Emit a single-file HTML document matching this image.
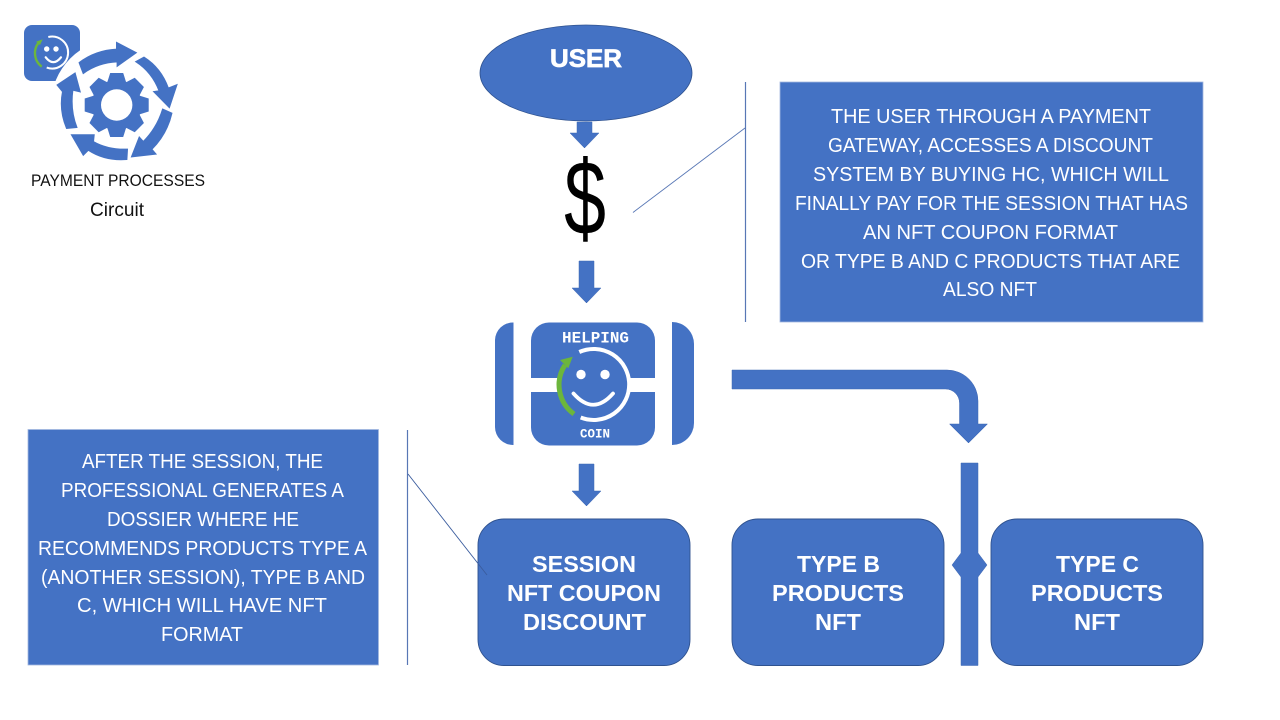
<!DOCTYPE html>
<html><head><meta charset="utf-8"><title>Payment Processes Circuit</title>
<style>html,body{margin:0;padding:0;background:#fff;width:1280px;height:720px;overflow:hidden}svg{display:block}
.b{font:20px "Liberation Sans",sans-serif;fill:#fff}
.h{font:bold 23px "Liberation Sans",sans-serif;fill:#fff}
.k{font:17px "Liberation Sans",sans-serif;fill:#111}
.m{font:bold 16px "Liberation Mono",monospace;fill:#fff}
</style></head><body>
<svg width="1280" height="720" viewBox="0 0 1280 720" xmlns="http://www.w3.org/2000/svg">
<!-- small logo -->
<rect x="24" y="25" width="56" height="56" rx="8" fill="#4472c4"/>
<path d="M48.300 37A16 16 0 1 1 46.700 67.600" fill="none" stroke="#fff" stroke-width="2"/>
<path d="M41.700 66.700A17 17 0 0 1 38.300 43" fill="none" stroke="#6cb63c" stroke-width="2.400"/>
<polygon points="42.700,39.300 36,41.700 40,45" fill="#6cb63c"/>
<circle cx="46.700" cy="49" r="2.700" fill="#fff"/><circle cx="56" cy="49" r="2.700" fill="#fff"/>
<path d="M45.700 57.300Q53.300 67 61 57.300" fill="none" stroke="#fff" stroke-width="2.200" stroke-linecap="round"/>
<circle cx="117" cy="105" r="66" fill="#fff"/>
<!-- gear -->
<g fill="#4472c4">
<polygon points="110.200,73 123.200,73 127,85 106.400,85"/>
<polygon points="110.200,73 123.200,73 127,85 106.400,85" transform="rotate(45 116.700 105)"/>
<polygon points="110.200,73 123.200,73 127,85 106.400,85" transform="rotate(90 116.700 105)"/>
<polygon points="110.200,73 123.200,73 127,85 106.400,85" transform="rotate(135 116.700 105)"/>
<polygon points="110.200,73 123.200,73 127,85 106.400,85" transform="rotate(180 116.700 105)"/>
<polygon points="110.200,73 123.200,73 127,85 106.400,85" transform="rotate(225 116.700 105)"/>
<polygon points="110.200,73 123.200,73 127,85 106.400,85" transform="rotate(270 116.700 105)"/>
<polygon points="110.200,73 123.200,73 127,85 106.400,85" transform="rotate(315 116.700 105)"/>
<circle cx="116.700" cy="105" r="25"/></g>
<circle cx="116.700" cy="105" r="15.700" fill="#fff"/>
<!-- circular arrows -->
<g fill="#4472c4" stroke="#4472c4" stroke-width="1.400" stroke-linejoin="miter">
<path d="M79.300 62.700Q95 50.500 116.700 49.300V42.700L136 52.700L117.300 66V61.700Q98 62.500 83.300 73.300Z"/>
<path d="M144 57.300Q161 68 168.300 88.300L176.700 85L169.300 107.300L154 91.700L159.300 91Q152 72 136 61.700Z"/>
<path d="M162.700 109.300L171.700 113.300Q167 134 151.700 149.300L155.700 154L131.700 156.700L139.300 137.300L143.300 141.700Q157 128 162.700 109.300Z"/>
<path d="M127.300 149.300L126.700 159.300Q105 161 88.300 150L83.300 155L71.700 135L94 135L93.300 141.700Q108 150 127.300 149.300Z"/>
<path d="M76.700 127.300L66.700 128.300Q59 110 62.700 91.700L57.300 85L75 73.300L80 91.700L72.700 90Q70 110 76.700 127.300Z"/>
</g>
<text class="k" x="31" y="186" textLength="174" lengthAdjust="spacingAndGlyphs">PAYMENT PROCESSES</text>
<text class="k" x="90" y="216" textLength="54" lengthAdjust="spacingAndGlyphs" style="font-size:19px">Circuit</text>

<!-- user -->
<ellipse cx="586" cy="73" rx="106" ry="48" fill="#4472c4" stroke="#2f528f" stroke-width="0.800"/>
<text x="550" y="67" font-family="Liberation Sans" font-weight="bold" font-size="25" fill="#fff" stroke="#fff" stroke-width="0.700" textLength="72" lengthAdjust="spacingAndGlyphs">USER</text>

<!-- down arrows -->
<g fill="#4472c4" stroke="#3f68b3" stroke-width="0.500">
<polygon points="577,122 592,122 592,133 599,133 584.500,148 570,133 577,133"/>
<polygon points="579,261 594,261 594,288 601,288 586.500,303 572,288 579,288"/>
<polygon points="579,464 594,464 594,491 601,491 586.500,506 572,491 579,491"/>
</g>
<text transform="translate(585 234.500) scale(.8 1.130)" text-anchor="middle" font-family="Liberation Sans" font-size="94" fill="#000">$</text>

<!-- right box -->
<rect x="780" y="82" width="423" height="240" fill="#4472c4" stroke="#a3b8e0" stroke-width="0.800"/>
<text class="b" x="831" y="123" textLength="320" lengthAdjust="spacingAndGlyphs">THE USER THROUGH A PAYMENT</text>
<text class="b" x="828" y="152" textLength="325" lengthAdjust="spacingAndGlyphs">GATEWAY, ACCESSES A DISCOUNT</text>
<text class="b" x="813" y="181" textLength="356" lengthAdjust="spacingAndGlyphs">SYSTEM BY BUYING HC, WHICH WILL</text>
<text class="b" x="795" y="210" textLength="393" lengthAdjust="spacingAndGlyphs">FINALLY PAY FOR THE SESSION THAT HAS</text>
<text class="b" x="863" y="239" textLength="255" lengthAdjust="spacingAndGlyphs">AN NFT COUPON FORMAT</text>
<text class="b" x="801" y="268" textLength="379" lengthAdjust="spacingAndGlyphs">OR TYPE B AND C PRODUCTS THAT ARE</text>
<text class="b" x="943" y="296" textLength="94" lengthAdjust="spacingAndGlyphs">ALSO NFT</text>

<!-- left box -->
<rect x="28" y="429.500" width="350.500" height="235.500" fill="#4472c4" stroke="#a3b8e0" stroke-width="0.800"/>
<text class="b" x="82" y="468" textLength="241" lengthAdjust="spacingAndGlyphs">AFTER THE SESSION, THE</text>
<text class="b" x="61" y="497" textLength="283" lengthAdjust="spacingAndGlyphs">PROFESSIONAL GENERATES A</text>
<text class="b" x="107" y="526" textLength="192" lengthAdjust="spacingAndGlyphs">DOSSIER WHERE HE</text>
<text class="b" x="38" y="555" textLength="329" lengthAdjust="spacingAndGlyphs">RECOMMENDS PRODUCTS TYPE A</text>
<text class="b" x="41" y="584" textLength="324" lengthAdjust="spacingAndGlyphs">(ANOTHER SESSION), TYPE B AND</text>
<text class="b" x="77" y="612" textLength="250" lengthAdjust="spacingAndGlyphs">C, WHICH WILL HAVE NFT</text>
<text class="b" x="161" y="641" textLength="82" lengthAdjust="spacingAndGlyphs">FORMAT</text>

<!-- HC logo -->
<g fill="#4472c4">
<path d="M513.500 322.500V445A18 18 0 0 1 495 427V340A18 18 0 0 1 513.500 322.500Z"/>
<path d="M672 322V445A22 22 0 0 0 694 423V344A22 22 0 0 0 672 322Z"/>
<rect x="531" y="322.500" width="124" height="123" rx="18"/>
</g>
<rect x="531" y="378" width="124" height="14" fill="#fff"/>
<circle cx="593.800" cy="384.500" r="35.500" fill="#4472c4"/>
<path d="M579.300 352A35.500 35.500 0 1 1 580.700 417.500" fill="none" stroke="#fff" stroke-width="4"/>
<path d="M574 414A36 36 0 0 1 565 365" fill="none" stroke="#6cb63c" stroke-width="5"/>
<polygon points="572.700,356.700 560,360 568.300,368.300" fill="#6cb63c"/>
<circle cx="581" cy="374.500" r="4.700" fill="#fff"/><circle cx="605" cy="374.500" r="4.700" fill="#fff"/>
<path d="M573.500 393.500Q593.300 416 613 393.500" fill="none" stroke="#fff" stroke-width="3.800" stroke-linecap="round"/>
<text class="m" x="562" y="342.500" textLength="67" lengthAdjust="spacingAndGlyphs">HELPING</text>
<text class="m" x="580" y="437.500" textLength="30" lengthAdjust="spacingAndGlyphs" style="font-size:12.500px">COIN</text>

<!-- bent arrow -->
<path d="M732 370H947A31 31 0 0 1 978 401V424H987.500L968.500 443L949.500 424H959.500V403A14 14 0 0 0 945.500 389H732Z" fill="#4472c4" stroke="#3f68b3" stroke-width="0.500"/>

<!-- rounded boxes -->
<g fill="#4472c4" stroke="#2f528f" stroke-width="0.900">
<rect x="478" y="519" width="212" height="146.500" rx="26"/>
<rect x="732" y="519" width="212" height="146.500" rx="26"/>
<rect x="991" y="519" width="212" height="146.500" rx="26"/>
</g>
<text class="h" x="532" y="572" textLength="104" lengthAdjust="spacingAndGlyphs">SESSION</text>
<text class="h" x="507" y="601" textLength="154" lengthAdjust="spacingAndGlyphs">NFT COUPON</text>
<text class="h" x="523" y="630" textLength="123" lengthAdjust="spacingAndGlyphs">DISCOUNT</text>
<text class="h" x="797" y="572" textLength="83" lengthAdjust="spacingAndGlyphs">TYPE B</text>
<text class="h" x="772" y="601" textLength="132" lengthAdjust="spacingAndGlyphs">PRODUCTS</text>
<text class="h" x="815" y="630" textLength="46" lengthAdjust="spacingAndGlyphs">NFT</text>
<text class="h" x="1056" y="572" textLength="83" lengthAdjust="spacingAndGlyphs">TYPE C</text>
<text class="h" x="1031" y="601" textLength="132" lengthAdjust="spacingAndGlyphs">PRODUCTS</text>
<text class="h" x="1074" y="630" textLength="46" lengthAdjust="spacingAndGlyphs">NFT</text>

<!-- callout lines (drawn above boxes) -->
<g stroke="#5877b5" fill="none">
<path d="M745.500 82V322" stroke-width="1.200"/>
<path d="M633 212.500L745 128" stroke-width="0.900"/>
<path d="M407.500 430V665" stroke-width="1.200"/>
<path d="M408 474L487 575" stroke="#3a5c9e" stroke-width="0.900"/>
</g>

<!-- vertical double arrow bar -->
<polygon points="952,565 961,553 961,463 978,463 978,553 987,565 978,577 978,665.500 961,665.500 961,577" fill="#4472c4" stroke="#3f68b3" stroke-width="0.500"/>
</svg>
</body></html>
